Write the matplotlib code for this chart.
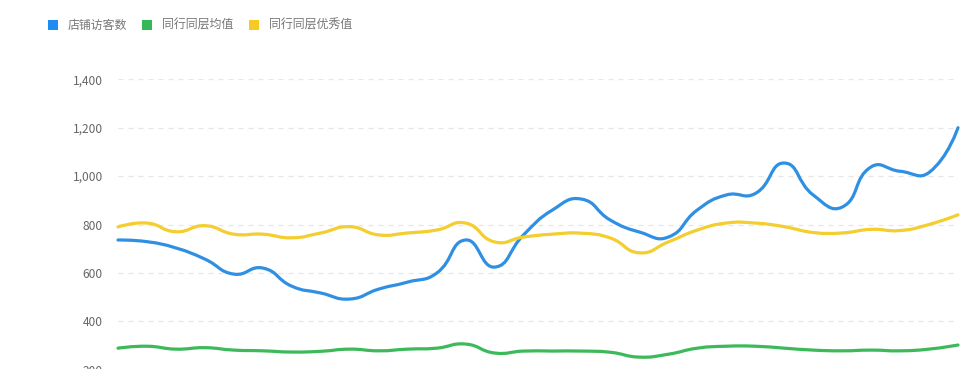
import matplotlib
matplotlib.use("Agg")
import matplotlib.pyplot as plt
from matplotlib.path import Path
from matplotlib.patches import PathPatch, Rectangle
from matplotlib.ticker import FuncFormatter, MultipleLocator
import numpy as np

plt.rcParams['font.family'] = ['Noto Sans CJK SC', 'DejaVu Sans']

# ---- data ----
series_names = ["店铺访客数", "同行同层均值", "同行同层优秀值"]
days = list(range(1, 31))
store_visitors = [736, 729, 703, 657, 595, 620, 545, 517, 492, 533,
                  562, 599, 736, 624, 757, 860, 905, 818, 769, 748,
                  860, 922, 928, 1054, 922, 872, 1038, 1020, 1015, 1200]
peer_avg = [289, 297, 285, 291, 281, 278, 273, 276, 285, 278,
            285, 289, 306, 269, 277, 277, 277, 272, 252, 264,
            289, 297, 297, 289, 281, 278, 281, 278, 285, 302]
peer_top = [790, 806, 770, 795, 760, 760, 745, 765, 791, 757,
            765, 777, 806, 728, 748, 760, 764, 744, 683, 728,
            777, 806, 806, 791, 767, 765, 780, 775, 800, 840]
colors = ["#2f8fe3", "#3cb95a", "#f4cd2e"]
legend_colors = ["#1e8cf0", "#35b957", "#f7c923"]
y_ticks = [200, 400, 600, 800, 1000, 1200, 1400]

W, H = 978, 369
fig = plt.figure(figsize=(W / 100, H / 100), dpi=100)
ax_left, ax_right = 118, 958
ax_top_px, ax_bot_px = 79.3, 418.1
ax = fig.add_axes([ax_left / W, 1 - ax_bot_px / H,
                   (ax_right - ax_left) / W, (ax_bot_px - ax_top_px) / H])
ax.set_xlim(0, len(days) - 1)
ax.set_ylim(0, 1400)

# pixel scale factors for echarts-like smoothing
sx = (ax_right - ax_left) / (len(days) - 1)
sy = (ax_bot_px - ax_top_px) / 1400.0


def smooth_path(xs, ys, smooth=0.5):
    px = np.array(xs, float) * sx
    py = np.array(ys, float) * sy
    n = len(px)
    cps = []
    for i in range(n):
        if i == 0 or i == n - 1:
            cps.append(((px[i], py[i]), (px[i], py[i])))
            continue
        vx = (px[i + 1] - px[i - 1]) * smooth
        vy = (py[i + 1] - py[i - 1]) * smooth
        d0 = np.hypot(px[i] - px[i - 1], py[i] - py[i - 1])
        d1 = np.hypot(px[i + 1] - px[i], py[i + 1] - py[i])
        r = d1 / (d0 + d1)
        cin = (px[i] - vx * (1 - r), py[i] - vy * (1 - r))
        cout = (px[i] + vx * r, py[i] + vy * r)
        cps.append((cin, cout))
    verts = [(px[0], py[0])]
    codes = [Path.MOVETO]
    for i in range(n - 1):
        verts += [cps[i][1], cps[i + 1][0], (px[i + 1], py[i + 1])]
        codes += [Path.CURVE4] * 3
    verts = [(vx_ / sx, vy_ / sy) for vx_, vy_ in verts]
    return Path(verts, codes)


x_idx = np.arange(len(days))
for vals, c in zip([store_visitors, peer_avg, peer_top], colors):
    p = smooth_path(x_idx, vals)
    ax.add_patch(PathPatch(p, facecolor='none', edgecolor=c, lw=2.3,
                           capstyle='round', joinstyle='round', clip_on=False))

# grid & axes styling
ax.set_yticks(y_ticks)
ax.yaxis.set_major_formatter(FuncFormatter(lambda v, _: f"{int(v):,}"))
ax.grid(axis='y', color='#e6e6e6', linestyle=(0, (4, 4)), lw=0.9)
ax.set_axisbelow(True)
ax.set_xticks([])
for s in ax.spines.values():
    s.set_visible(False)
ax.tick_params(axis='y', length=0, pad=11, labelsize=8.6, labelcolor='#666666')

# legend (manual, echarts style)
renderer = fig.canvas.get_renderer()
x = 48
yc = H - 25
for name, c in zip(series_names, legend_colors):
    fig.patches.append(Rectangle((x / W, (yc - 5) / H), 10 / W, 10 / H,
                                 transform=fig.transFigure, facecolor=c,
                                 edgecolor='none'))
    t = fig.text((x + 20) / W, yc / H, name, fontsize=8.6, color='#777777',
                 va='center', ha='left')
    bb = t.get_window_extent(renderer)
    x = bb.x1 + 15

fig.savefig("out.png", dpi=100)
